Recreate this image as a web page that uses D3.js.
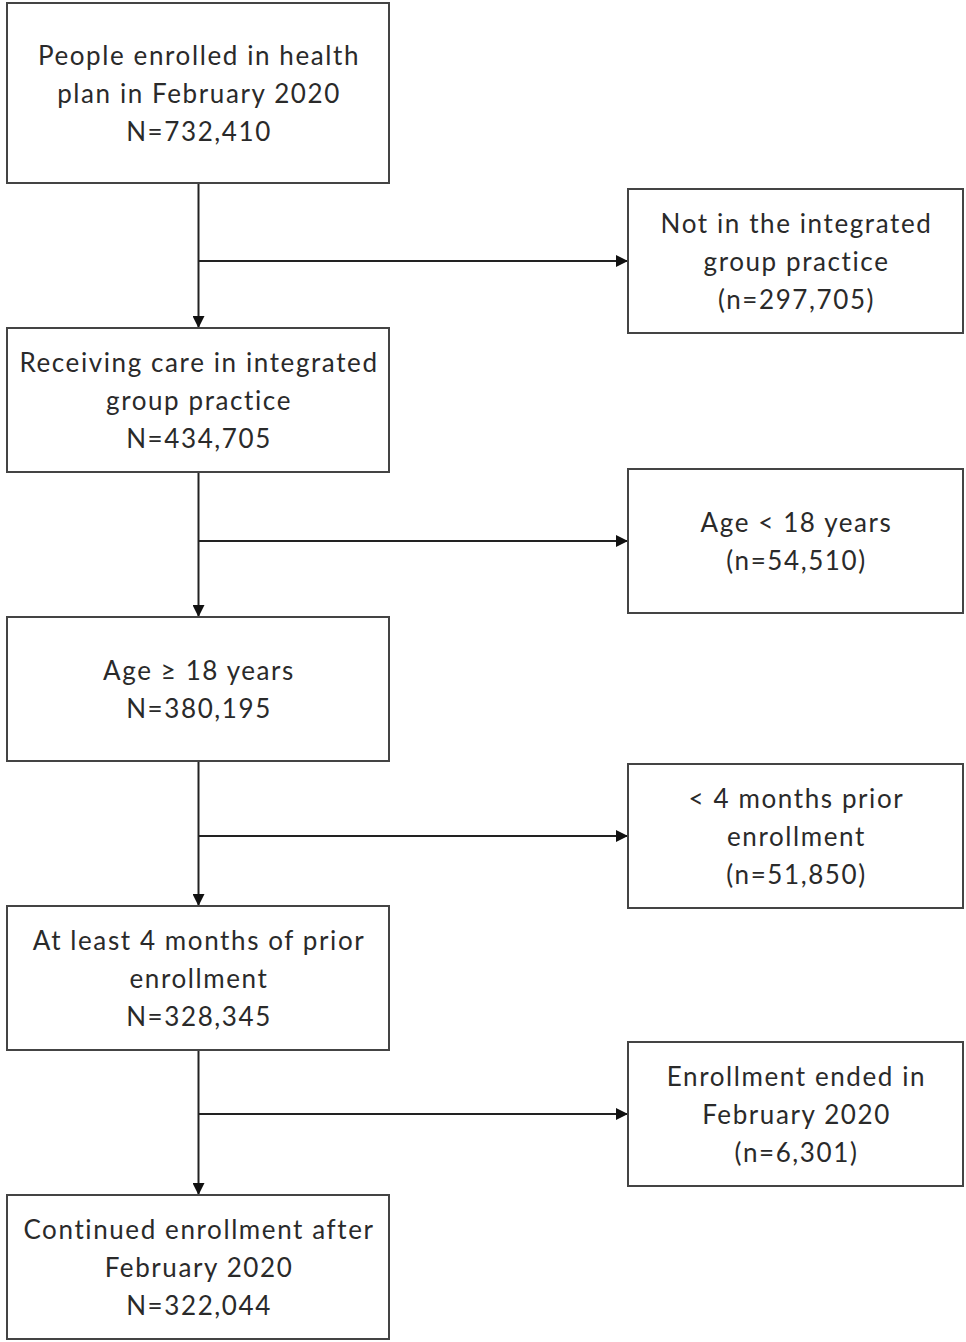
<!DOCTYPE html>
<html>
<head>
<meta charset="utf-8">
<script src="https://cdn.jsdelivr.net/npm/d3@7"></script>
<style>
  body { margin: 0; background: #fff; }
  svg { display: block; }
  .lbl { font-family: Lato, "Open Sans", sans-serif; font-size: 26px; letter-spacing: 1.6px; fill: #2a2a2a; }
</style>
</head>
<body>
<div id="flujo"></div>
<script>
// pasos de inclusion (columna izquierda)
const pasos = [
    ["People enrolled in health", "plan in February 2020", "N=732,410"],
    ["Receiving care in integrated", "group practice", "N=434,705"],
    ["Age \u2265 18 years", "N=380,195"],
    ["At least 4 months of prior", "enrollment", "N=328,345"],
    ["Continued enrollment after", "February 2020", "N=322,044"]
];

// exclusiones (columna derecha)
const exclusiones = [
    ["Not in the integrated", "group practice", "(n=297,705)"],
    ["Age < 18 years", "(n=54,510)"],
    ["< 4 months prior", "enrollment", "(n=51,850)"],
    ["Enrollment ended in", "February 2020", "(n=6,301)"]
];

const width = 966, height = 1342;
const izq = {x0: 7, x1: 389};
const der = {x0: 628, x1: 963};
const lineaH = 38;

const svg = d3.select("#flujo")
    .append("svg")
    .attr("width", width)
    .attr("height", height);

svg.append("defs").append("marker")
    .attr("id", "flecha")
    .attr("viewBox", "0 0 10 10")
    .attr("refX", 10)
    .attr("refY", 5)
    .attr("markerWidth", 14)
    .attr("markerHeight", 12)
    .attr("markerUnits", "userSpaceOnUse")
    .attr("orient", "auto")
    .append("path")
    .attr("d", "M0,0 L10,5 L0,10 Z")
    .attr("fill", "#111");

// centros verticales
const yIzq = d3.scaleLinear().domain([0, 1, 4]).range([93, 400, 1267]);
const yDer = d3.scaleLinear().domain([0, 1, 2, 3]).range([261, 541, 836, 1114]);
const altoIzq = i => i === 0 ? 180 : 144;
const xEje = (izq.x0 + izq.x1) / 2 + 0.5;

// conectores verticales
svg.selectAll("line.vert")
    .data(d3.range(pasos.length - 1))
    .enter()
    .append("line")
    .attr("class", "vert")
    .attr("x1", xEje)
    .attr("x2", xEje)
    .attr("y1", i => yIzq(i) + altoIzq(i) / 2)
    .attr("y2", i => yIzq(i + 1) - altoIzq(i + 1) / 2)
    .attr("stroke", "#222")
    .attr("stroke-width", 2)
    .attr("marker-end", "url(#flecha)");

// conectores horizontales
svg.selectAll("line.horiz")
    .data(exclusiones)
    .enter()
    .append("line")
    .attr("class", "horiz")
    .attr("x1", xEje)
    .attr("x2", der.x0)
    .attr("y1", (d, i) => yDer(i))
    .attr("y2", (d, i) => yDer(i))
    .attr("stroke", "#222")
    .attr("stroke-width", 2)
    .attr("marker-end", "url(#flecha)");

function caja(datos, col, yc, alto) {
    const g = svg.append("g")
        .selectAll("g")
        .data(datos)
        .enter()
        .append("g");

    g.append("rect")
        .attr("x", col.x0)
        .attr("y", (d, i) => yc(i) - alto(i) / 2)
        .attr("width", col.x1 - col.x0)
        .attr("height", (d, i) => alto(i))
        .attr("fill", "#fff")
        .attr("stroke", "#444")
        .attr("stroke-width", 2);

    g.each(function (d, i) {
        const n = d.length;
        d3.select(this).selectAll("text")
            .data(d)
            .enter()
            .append("text")
            .attr("class", "lbl")
            .attr("text-anchor", "middle")
            .attr("dominant-baseline", "central")
            .attr("x", (col.x0 + col.x1) / 2 + 1)
            .attr("y", (t, j) => yc(i) + (j - (n - 1) / 2) * lineaH)
            .text(t => t);
    });
}

caja(pasos, izq, yIzq, altoIzq);
caja(exclusiones, der, yDer, () => 144);
</script>
</body>
</html>
